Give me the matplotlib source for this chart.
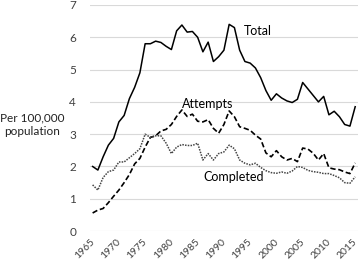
import matplotlib
matplotlib.use('Agg')
import matplotlib.pyplot as plt

YEARS = list(range(1965, 2016))

TOTAL = [2.0, 1.89, 2.3, 2.66, 2.87, 3.38, 3.58, 4.1, 4.45, 4.9,
         5.8, 5.8, 5.88, 5.84, 5.72, 5.62, 6.2, 6.38, 6.16, 6.18,
         6.0, 5.55, 5.85, 5.25, 5.4, 5.6, 6.4, 6.3, 5.6, 5.25,
         5.2, 5.05, 4.75, 4.35, 4.05, 4.25, 4.12, 4.03, 3.98, 4.08,
         4.6, 4.4, 4.2, 4.0, 4.17, 3.6, 3.71, 3.54, 3.3, 3.25,
         3.85]

ATTEMPTS = [0.56, 0.65, 0.7, 0.88, 1.08, 1.27, 1.5, 1.75, 2.08, 2.25,
            2.6, 2.9, 2.95, 3.1, 3.15, 3.3, 3.55, 3.75, 3.55, 3.62,
            3.4, 3.38, 3.45, 3.18, 3.03, 3.3, 3.72, 3.54, 3.23, 3.18,
            3.12, 2.97, 2.85, 2.42, 2.3, 2.49, 2.3, 2.2, 2.25, 2.15,
            2.57, 2.54, 2.41, 2.2, 2.4, 1.96, 1.92, 1.9, 1.83, 1.78,
            2.11]

COMPLETED = [1.43, 1.27, 1.66, 1.84, 1.89, 2.14, 2.14, 2.27, 2.4, 2.55,
             3.0, 2.9, 2.95, 2.95, 2.72, 2.4, 2.6, 2.68, 2.65, 2.65,
             2.72, 2.2, 2.4, 2.2, 2.4, 2.45, 2.66, 2.55, 2.2, 2.1,
             2.05, 2.1, 1.97, 1.87, 1.81, 1.79, 1.83, 1.79, 1.86, 2.0,
             1.97, 1.88, 1.84, 1.82, 1.78, 1.78, 1.72, 1.65, 1.5, 1.48,
             1.68]

XTICKS = list(range(1965, 2016, 5))
YTICKS = list(range(0, 8))

plt.rcParams['font.family'] = ['Lato', 'DejaVu Sans']

fig = plt.figure(figsize=(3.59, 2.62), dpi=100)
ax = fig.add_axes([0.2507, 0.118, 0.746, 0.863])

ax.plot(YEARS, TOTAL, color='black', lw=1.1)
ax.plot(YEARS, ATTEMPTS, color='black', lw=1.2, linestyle=(0, (3.2, 1.6)))
ax.plot(YEARS, COMPLETED, color='#444444', lw=1.1, linestyle=(0, (1, 0.8)))

ax.set_xlim(1964.5, 2015.5)
ax.set_ylim(0, 7)
ax.set_yticks(YTICKS)
ax.set_xticks(XTICKS)
ax.set_xticklabels([str(y) for y in XTICKS], rotation=45, ha='right',
                   va='center_baseline', rotation_mode='anchor')
ax.grid(axis='y', color='#d9d9d9', lw=0.8)
ax.set_axisbelow(True)
for s in ax.spines.values():
    s.set_visible(False)
ax.tick_params(length=0, colors='#404040', labelsize=8.5)
ax.tick_params(axis='y', pad=10)
ax.tick_params(axis='x', pad=6, labelsize=7.5)

ax.text(1996.4, 6.19, 'Total', fontsize=9, ha='center', va='center')
ax.text(1987.0, 3.93, 'Attempts', fontsize=9, ha='center', va='center')
ax.text(1991.8, 1.67, 'Completed', fontsize=9, ha='center', va='center')

fig.text(32 / 359, 1 - 125 / 262, 'Per 100,000\npopulation', fontsize=8.5,
         ha='center', va='center', color='#222222', linespacing=1.3)

fig.savefig('out.png', dpi=100)
